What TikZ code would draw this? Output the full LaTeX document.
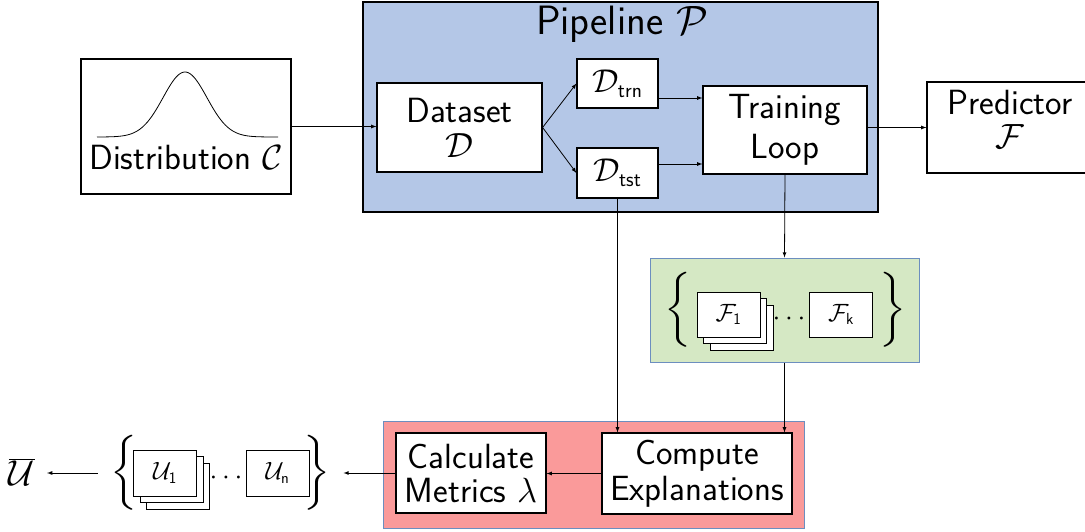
\RequirePackage{fix-cm}
\documentclass[tikz,border=0pt]{standalone}
\usepackage{graphicx}
\usetikzlibrary{arrows}
\renewcommand{\familydefault}{\sfdefault}
\definecolor{pipeblue}{HTML}{B4C7E7}
\definecolor{setgreen}{HTML}{D5E8C4}
\definecolor{evalred}{HTML}{FA9A9A}
\definecolor{panelline}{HTML}{6C8EBF}
\tikzset{
  box/.style={draw, fill=white, line width=1.2pt, inner sep=0pt, align=center,
    font=\fontsize{35}{36}\selectfont},
  panel/.style={draw=panelline, line width=1pt, inner sep=0pt},
  stackbox/.style={draw, fill=white, line width=1pt, inner sep=0pt,
    minimum width=63pt, minimum height=45pt, font=\fontsize{25}{28}\selectfont},
  lbl/.style={inner sep=0pt, font=\fontsize{35}{36}\selectfont},
  brace/.style={inner sep=0pt, outer xsep=13pt},
  flow/.style={->, line width=0.8pt}
}
\newcommand{\subtxt}[2]{\mbox{\fontsize{#1}{#1}\selectfont\sffamily #2}}
\newcommand{\bigbrace}[1]{\resizebox*{27pt}{75pt}{$\bigg#1$}}
\begin{document}
\begin{tikzpicture}[x=1pt,y=-1pt,>=latex]
  \useasboundingbox (0,0) rectangle (1085,532);

  \node[box, minimum width=210pt, minimum height=135pt] (dist) at (186,126.5) {};
  \draw[line width=0.8pt] plot[domain=97:278, samples=90]
    (\x, {137-65*exp(-((\x-185)/31)*((\x-185)/31))});
  \node[lbl] (distlbl) at (186,157) {Distribution $\mathcal{C}$};

  \node[draw, fill=pipeblue, line width=1.2pt, minimum width=515pt, minimum height=210pt] (pipe) at (620.5,107) {};
  \node[lbl, font=\fontsize{41}{44}\selectfont] (pipelbl) at (622,24) {Pipeline $\mathcal{P}$};
  \node[box, minimum width=165pt, minimum height=89pt] (ds) at (459.5,127.5) {Dataset\\[-1pt]$\mathcal{D}$};
  \node[box, minimum width=81pt, minimum height=49pt, font=\fontsize{33}{36}\selectfont] (dtrn) at (617.5,83.5) {$\mathcal{D}_{\subtxt{21}{trn}}$};
  \node[box, minimum width=81pt, minimum height=50pt, font=\fontsize{33}{36}\selectfont] (dtst) at (617.5,173) {$\mathcal{D}_{\subtxt{21}{tst}}$};
  \node[box, minimum width=164pt, minimum height=88pt] (tl) at (785,130) {Training\\[4pt]Loop};

  \node[box, minimum width=170pt, minimum height=91pt] (pred) at (1012,127.5) {};
  \node[lbl, align=center] (predlbl) at (1010,119) {Predictor\\[-2pt]$\mathcal{F}$};

  \node[panel, fill=setgreen, minimum width=269pt, minimum height=104pt] (fset) at (784.5,310) {};
  \foreach \k in {2,1}
    \node[stackbox] (fs\k) at ({728.5+6.5*\k},{314.5+6.5*\k}) {};
  \node[stackbox] (f1) at (728.5,314.5) {$\mathcal{F}_{\subtxt{16}{1}}$};
  \node[stackbox] (fk) at (841,314.5) {$\mathcal{F}_{\subtxt{16}{k}}$};
  \node[lbl, anchor=base, font=\fontsize{28}{30}\selectfont] (fdots) at (789,325) {$\cdots$};
  \node[brace] (flb) at (678,310) {\bigbrace\{};
  \node[brace] (frb) at (893,310) {\bigbrace\}};

  \node[panel, fill=evalred, minimum width=421pt, minimum height=107pt] (eval) at (593.5,474.5) {};
  \node[box, minimum width=150pt, minimum height=80pt] (calc) at (471,473) {Calculate\\[-2pt]Metrics $\lambda$};
  \node[box, minimum width=190pt, minimum height=81pt] (ce) at (697,473.5) {Compute\\[0pt]Explanations};

  \foreach \k in {2,1}
    \node[stackbox, minimum height=46pt] (us\k) at ({165+6.5*\k},{473+6.5*\k}) {};
  \node[stackbox, minimum height=46pt] (u1) at (165,473) {$\mathcal{U}_{\subtxt{16}{1}}$};
  \node[stackbox, minimum height=46pt] (un) at (277.5,473) {$\mathcal{U}_{\subtxt{16}{n}}$};
  \node[lbl, anchor=base, font=\fontsize{28}{30}\selectfont] (udots) at (226,484) {$\cdots$};
  \node[brace] (ulb) at (124,473) {\bigbrace\{};
  \node[brace] (urb) at (317,473) {\bigbrace\}};
  \node[lbl, outer xsep=12pt, font=\fontsize{36}{40}\selectfont] (ubar) at (22,472) {$\overline{\mathcal{U}}$};

  \draw[flow] (dist.east) -- (dist.east -| ds.west);
  \draw[flow] (ds.east) -- (dtrn.west);
  \draw[flow] (ds.east) -- (dtst.west);
  \draw[flow] ([yshift=-14.5pt]dtrn.east) -- ([yshift=-14.5pt]dtrn.east -| tl.west);
  \draw[flow] ([yshift=9pt]dtst.east) -- ([yshift=9pt]dtst.east -| tl.west);
  \draw[flow] (pred.west -| tl.east) -- (pred.west);
  \draw[flow] (tl.south) -- (fset.north);
  \draw[flow] (dtst.south) -- (dtst.south |- ce.north);
  \draw[flow] (fset.south) -- (fset.south |- ce.north);
  \draw[flow] (ce.west) -- (ce.west -| calc.east);
  \draw[flow] (calc.west) -- (calc.west -| urb.east);
  \draw[flow] (ulb.west) -- (ulb.west -| ubar.east);
\end{tikzpicture}
\end{document}
